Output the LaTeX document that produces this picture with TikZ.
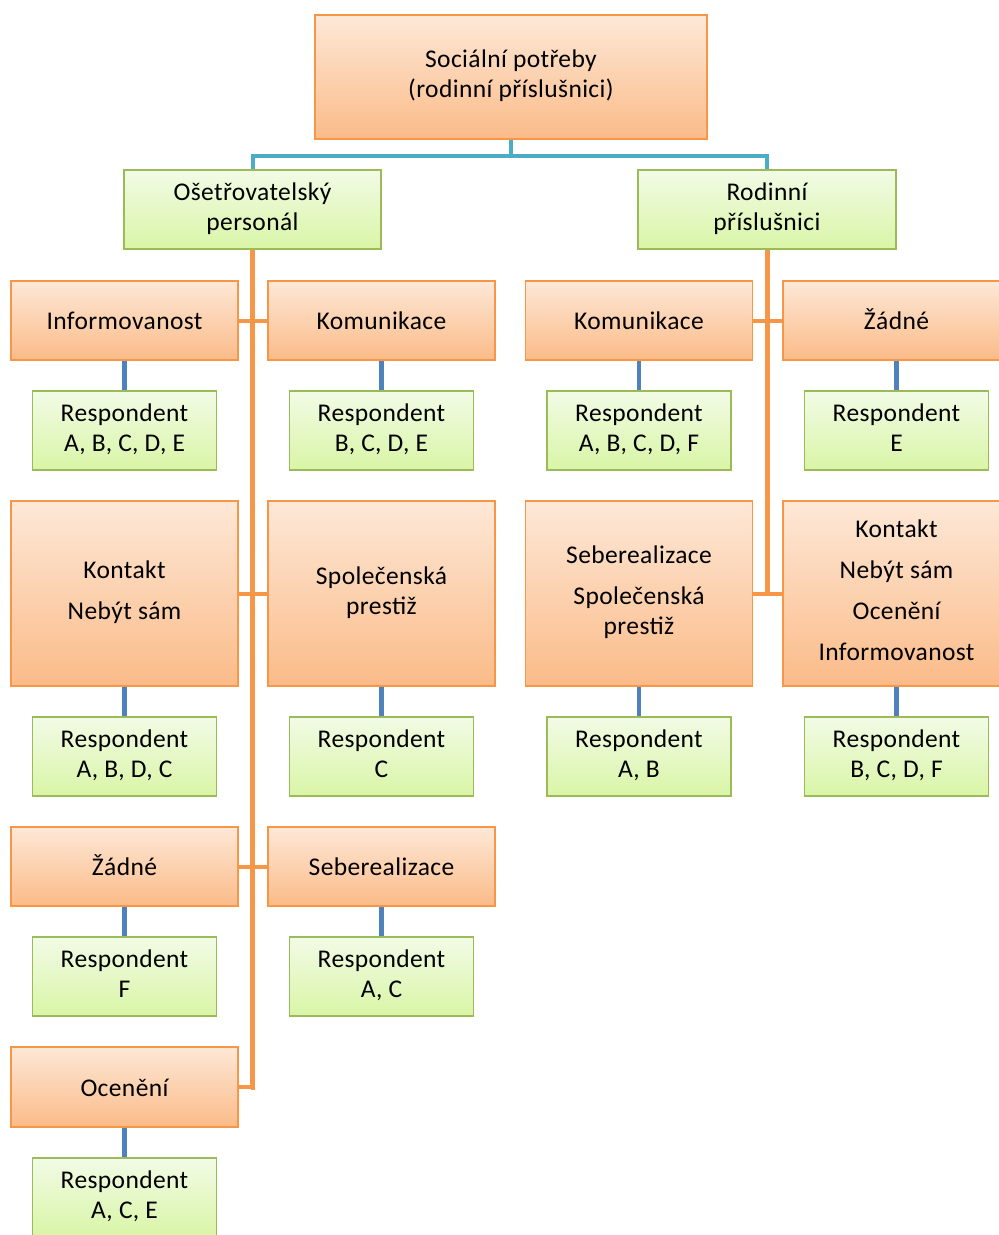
\documentclass[tikz,border=0pt]{standalone}
\usepackage{fontspec}
\setmainfont{Carlito}[LetterSpace=1.5]
\definecolor{orBorder}{HTML}{F79646}
\definecolor{orTop}{HTML}{FDE8D7}
\definecolor{orBot}{HTML}{FBBB88}
\definecolor{grBorder}{HTML}{9BBB59}
\definecolor{grTop}{HTML}{F2FBE6}
\definecolor{grBot}{HTML}{D9F5A6}
\definecolor{aquaLine}{HTML}{4BACC6}
\definecolor{blueLine}{HTML}{4F81BD}
% invisible strut that fixes the first and last line of every box
\newcommand\boxstrut{\rule[-6pt]{0pt}{30pt}}
\tikzset{
  box/.style={align=center, inner sep=0pt, line width=1.6pt,
    font=\fontsize{25.5}{30}\selectfont,
    execute at begin node=\boxstrut, execute at end node=\boxstrut},
  obox/.style={box, draw=orBorder, top color=orTop, bottom color=orBot,
    minimum width=227pt},
  gbox/.style={box, draw=grBorder, top color=grTop, bottom color=grBot},
  resp/.style={gbox, minimum width=184pt, minimum height=79pt},
  trunk/.style={draw=orBorder, line width=5pt},
  stub/.style={draw=orBorder, line width=4pt},
  topline/.style={draw=aquaLine, line width=4pt},
  leafline/.style={draw=blueLine, line width=4.5pt}
}
\begin{document}
\begin{tikzpicture}[x=1pt,y=-1pt]
\useasboundingbox (0,0) rectangle (999,1235);

% root
\node[obox, minimum width=392pt, minimum height=124pt] (root) at (511,77)
  {Sociální potřeby\\(rodinní příslušnici)};

% second level
\node[gbox, minimum width=257pt, minimum height=79pt] (staff) at (252.5,209.5)
  {Ošetřovatelský\\personál};
\node[gbox, minimum width=258pt, minimum height=79pt] (family) at (767,209.5)
  {Rodinní\\příslušnici};

% staff branch
\node[obox, minimum height=79pt] (sInfo) at (124.5,320.5) {Informovanost};
\node[obox, minimum height=79pt] (sKom) at (381.5,320.5) {Komunikace};
\node[resp] (rInfo) at (124.5,430.5) {Respondent\\A, B, C, D, E};
\node[resp] (rKom) at (381.5,430.5) {Respondent\\B, C, D, E};

\node[obox, minimum height=185pt] (sKont) at (124.5,593.5) {Kontakt\\[11pt]Nebýt sám};
\node[obox, minimum height=185pt] (sSpol) at (381.5,593.5) {Společenská\\prestiž};
\node[resp] (rKont) at (124.5,756.5) {Respondent\\A, B, D, C};
\node[resp] (rSpol) at (381.5,756.5) {Respondent\\C};

\node[obox, minimum height=79pt] (sZad) at (124.5,866.5) {Žádné};
\node[obox, minimum height=79pt] (sSeb) at (381.5,866.5) {Seberealizace};
\node[resp] (rZad) at (124.5,976.5) {Respondent\\F};
\node[resp] (rSeb) at (381.5,976.5) {Respondent\\A, C};

\node[obox, minimum height=80pt] (sOc) at (124.5,1087) {Ocenění};
\node[resp] (rOc) at (124.5,1197.5) {Respondent\\A, C, E};

% family branch
\node[obox, minimum height=79pt] (fKom) at (639,320.5) {Komunikace};
\node[obox, minimum height=79pt] (fZad) at (896.5,320.5) {Žádné};
\node[resp] (rfKom) at (639,430.5) {Respondent\\A, B, C, D, F};
\node[resp] (rfZad) at (896.5,430.5) {Respondent\\E};

\node[obox, minimum height=185pt] (fSeb) at (639,593.5)
  {Seberealizace\\[11pt]Společenská\\prestiž};
\node[obox, minimum height=185pt] (fKont) at (896.5,593.5)
  {Kontakt\\[11pt]Nebýt sám\\[11pt]Ocenění\\[11pt]Informovanost};
\node[resp] (rfSeb) at (639,756.5) {Respondent\\A, B};
\node[resp] (rfKont) at (896.5,756.5) {Respondent\\B, C, D, F};

% root to second level
\coordinate (fork) at (511,156);
\draw[topline] (root.south) -- (fork);
\draw[topline] (staff.north) |- (fork) -| (family.north);

% staff trunk and stubs
\coordinate (sEnd) at (253.5,1087);
\draw[trunk] (staff.south) -- (staff.south |- sEnd) coordinate (sBottom);
\draw[stub] (sInfo.east) -- (sKom.west);
\draw[stub] (sKont.east) -- (sSpol.west);
\draw[stub] (sZad.east) -- (sSeb.west);
\draw[stub] (sOc.east) -| ([yshift=-2.5pt]sBottom);

% family trunk and stubs
\draw[trunk] (family.south) -- (family.south |- fSeb.east);
\draw[stub] (fKom.east) -- (fZad.west);
\draw[stub] (fSeb.east) -- (fKont.west);

% answer groups
\foreach \a/\b in {sInfo/rInfo, sKom/rKom, sKont/rKont, sSpol/rSpol,
                   sZad/rZad, sSeb/rSeb, sOc/rOc,
                   fKom/rfKom, fZad/rfZad, fSeb/rfSeb, fKont/rfKont}
  \draw[leafline] (\a.south) -- (\b.north);
\end{tikzpicture}
\end{document}
